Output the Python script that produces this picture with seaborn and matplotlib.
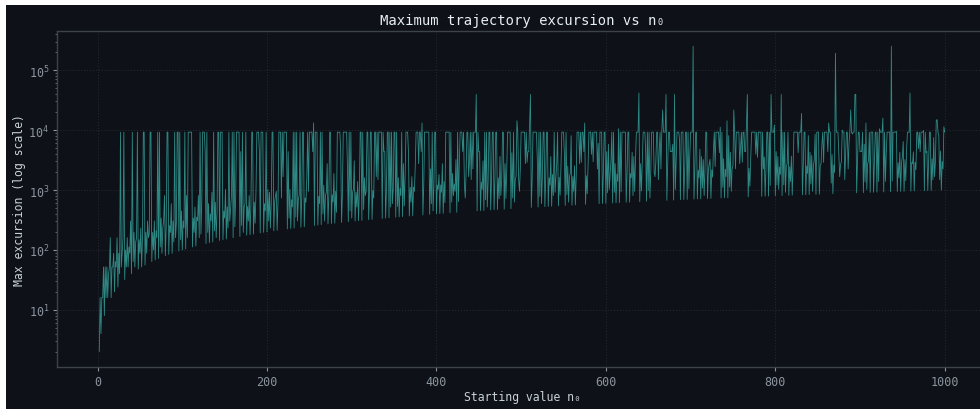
import numpy as np
import pandas as pd
import matplotlib
matplotlib.use("Agg")
import matplotlib.pyplot as plt
from matplotlib.patches import Rectangle
import seaborn as sns

# ---- data: maximum value reached by the Collatz trajectory of each start n0 ----
n_values = list(range(2, 1001))


def trajectory_max(n):
    peak = n
    while n != 1:
        n = n // 2 if n % 2 == 0 else 3 * n + 1
        if n > peak:
            peak = n
    return peak


max_excursion = [trajectory_max(n) for n in n_values]

title_text = "Maximum trajectory excursion vs n\u2080"
x_label = "Starting value n\u2080"
y_label = "Max excursion (log scale)"
x_ticks = [0, 200, 400, 600, 800, 1000]

# ---- style ----
BG = "#0e1117"
LINE = "#3cbdb4"
sns.set_theme(style="dark")
plt.rcParams["font.family"] = ["DejaVu Sans Mono", "DejaVu Sans"]

W, H = 980, 410
fig = plt.figure(figsize=(W / 100, H / 100), dpi=100)
fig.patch.set_facecolor("white")
fig.add_artist(Rectangle((6 / W, 0), 1 - 6 / W, 1 - 6 / H, transform=fig.transFigure,
                         facecolor=BG, edgecolor="none", zorder=-10))

ax = fig.add_axes([57 / W, (H - 368) / H, 930 / W, (368 - 32) / H])
ax.set_facecolor(BG)

df = pd.DataFrame({"n0": n_values, "peak": max_excursion})
sns.lineplot(data=df, x="n0", y="peak", ax=ax, color=LINE, linewidth=0.6,
             alpha=0.7, estimator=None, sort=False)
ax.set_yscale("log")
ax.margins(x=0.05, y=0.05)
ax.set_xticks(x_ticks)

ax.set_title(title_text, color="#e6edf3", fontsize=10, pad=5)
ax.set_xlabel(x_label, color="#c9d1d9", fontsize=8.3, labelpad=2)
ax.set_ylabel(y_label, color="#c9d1d9", fontsize=8.3, labelpad=2)

ax.tick_params(axis="both", which="major", colors="#8b949e", labelsize=8.5,
               length=3, width=0.8, pad=2.5, bottom=True, left=True)
ax.tick_params(axis="y", which="minor", colors="#6e7681", length=1.8, width=0.6,
               pad=2.5, left=True)
ax.grid(True, which="major", color="#232830", linestyle=":", linewidth=0.8)

for side in ["left", "bottom", "top", "right"]:
    ax.spines[side].set_visible(True)
    ax.spines[side].set_color("#3d434b")
    ax.spines[side].set_linewidth(1.0)

fig.savefig("out.png", dpi=100, facecolor=fig.get_facecolor())
